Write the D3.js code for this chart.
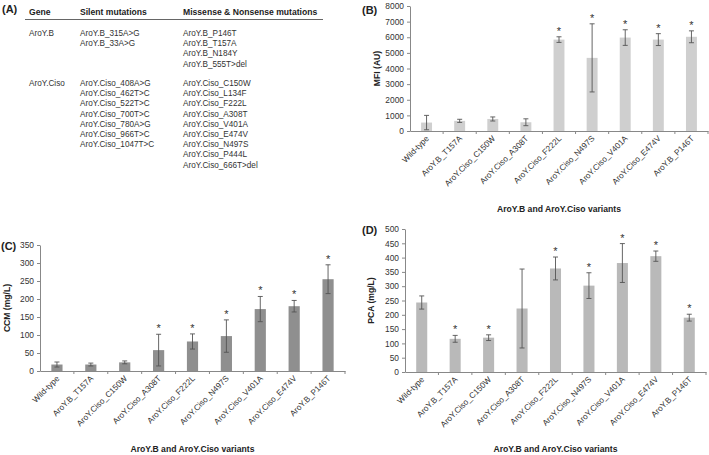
<!DOCTYPE html>
<html><head><meta charset="utf-8">
<script src="https://cdn.jsdelivr.net/npm/d3@7"></script>
<style>
body{margin:0;background:#fff;}
svg{display:block;font-family:"Liberation Sans",Arial,Helvetica,sans-serif;}
</style></head>
<body><svg id="c" width="709" height="455"></svg>
<script>
// ---------- data ----------
const variants = ["Wild-type","AroY.B_T157A","AroY.Ciso_C150W","AroY.Ciso_A308T","AroY.Ciso_F222L","AroY.Ciso_N497S","AroY.Ciso_V401A","AroY.Ciso_E474V","AroY.B_P146T"];
const mfiMean = [540, 650, 770, 560, 5850, 4680, 5980, 5850, 6030];
const mfiErr  = [460, 100, 130, 220, 180, 2180, 500, 380, 380];
const mfiSig  = [0,0,0,0,1,1,1,1,1];
const mfiTicks = [0,1000,2000,3000,4000,5000,6000,7000,8000];

const ccmMean = [18, 18, 24, 58, 82, 97, 172, 180, 255];
const ccmErr  = [7, 4, 4, 44, 21, 45, 35, 16, 40];
const ccmSig  = [0,0,0,1,1,1,1,1,1];
const ccmTicks = [0,50,100,150,200,250,300,350];

const pcaMean = [243, 116, 120, 222, 362, 302, 381, 405, 190];
const pcaErr  = [23, 12, 10, 138, 40, 45, 68, 18, 12];
const pcaSig  = [0,1,1,0,1,1,1,1,1];
const pcaTicks = [0,50,100,150,200,250,300,350,400,450,500];

const tableHeader = ["Gene","Silent mutations","Missense & Nonsense mutations"];
const genes = ["AroY.B","AroY.Ciso"];
const silentB = ["AroY.B_315A>G","AroY.B_33A>G"];
const missenseB = ["AroY.B_P146T","AroY.B_T157A","AroY.B_N184Y","AroY.B_555T>del"];
const silentC = ["AroY.Ciso_408A>G","AroY.Ciso_462T>C","AroY.Ciso_522T>C","AroY.Ciso_700T>C","AroY.Ciso_780A>G","AroY.Ciso_966T>C","AroY.Ciso_1047T>C"];
const missenseC = ["AroY.Ciso_C150W","AroY.Ciso_L134F","AroY.Ciso_F222L","AroY.Ciso_A308T","AroY.Ciso_V401A","AroY.Ciso_E474V","AroY.Ciso_N497S","AroY.Ciso_P444L","AroY.Ciso_666T>del"];
const xTitle = "AroY.B and AroY.Ciso variants";

// ---------- drawing ----------
const svg = d3.select("#c");
const txt = "#222";

// Panel A table
const gA = svg.append("g");
gA.append("text").attr("x",2).attr("y",13).attr("font-size",11).attr("font-weight","bold").attr("fill",txt).text("(A)");
const colX = [29, 80, 183];
tableHeader.forEach((h,i)=>gA.append("text").attr("x",colX[i]).attr("y",15).attr("font-size",8.6).attr("font-weight","bold").attr("fill",txt).text(h));
gA.append("line").attr("x1",25).attr("x2",323).attr("y1",19.5).attr("y2",19.5).attr("stroke","#666").attr("stroke-width",1);
const lh = 10.2;
function col(list, x, y0){ list.forEach((s,i)=>gA.append("text").attr("x",x).attr("y",y0+i*lh).attr("font-size",8.2).attr("fill","#333").text(s)); }
col([genes[0]], colX[0], 36); col(silentB, colX[1], 36); col(missenseB, colX[2], 36);
col([genes[1]], colX[0], 86); col(silentC, colX[1], 86); col(missenseC, colX[2], 86);

function panel(o){
  const g = svg.append("g");
  const x = d3.scaleBand().domain(variants).range([o.x0,o.x1]).paddingInner(0).paddingOuter(0);
  const y = d3.scaleLinear().domain([0,o.max]).range([o.yb,o.yt]);
  // y axis
  const ya = g.append("g").attr("transform",`translate(${o.x0},0)`).call(d3.axisLeft(y).tickValues(o.ticks).tickFormat(d3.format("d")).tickSize(3).tickSizeOuter(0).tickPadding(3));
  ya.selectAll("text").attr("font-size",8.4).attr("fill","#333").attr("font-family","Liberation Sans,Arial,sans-serif");
  ya.selectAll("line,path").attr("stroke","#888");
  // x axis
  const xa = g.append("g").attr("transform",`translate(0,${o.yb})`).call(d3.axisBottom(x).tickSize(0).tickFormat(""));
  xa.select("path").attr("stroke","#888");
  // boundary ticks
  g.selectAll(".bt").data(variants).enter().append("line")
    .attr("x1",d=>x(d)+x.bandwidth()).attr("x2",d=>x(d)+x.bandwidth())
    .attr("y1",o.yb).attr("y2",o.yb+3).attr("stroke","#888");
  // bars
  const bw = x.bandwidth()*0.33;
  const cx = d=>x(d)+x.bandwidth()/2;
  g.selectAll(".bar").data(variants).enter().append("rect")
    .attr("x",d=>cx(d)-bw/2).attr("width",bw)
    .attr("y",(d,i)=>y(o.mean[i])).attr("height",(d,i)=>o.yb-y(o.mean[i])).attr("fill",o.color);
  // error bars
  variants.forEach((d,i)=>{
    const c = cx(d), t = y(Math.min(o.max,o.mean[i]+o.err[i])), b = y(Math.max(0,o.mean[i]-o.err[i]));
    g.append("line").attr("x1",c).attr("x2",c).attr("y1",t).attr("y2",b).attr("stroke","#555").attr("stroke-width",0.9);
    [t,b].forEach(v=>g.append("line").attr("x1",c-2.5).attr("x2",c+2.5).attr("y1",v).attr("y2",v).attr("stroke","#555").attr("stroke-width",0.9));
    if(o.sig[i]) g.append("text").attr("x",c).attr("y",t-2).attr("text-anchor","middle").attr("font-size",11).attr("fill","#333").text("*");
  });
  // x labels
  variants.forEach((d,i)=>{
    g.append("text").attr("transform",`translate(${cx(d)+3},${o.yb+8}) rotate(-45)`)
      .attr("text-anchor","end").attr("font-size",8.2).attr("fill","#333").text(d);
  });
  // titles
  g.append("text").attr("x",(o.x0+o.x1)/2).attr("y",o.titleY).attr("text-anchor","middle").attr("font-size",8.6).attr("font-weight","bold").attr("fill",txt).text(xTitle);
  g.append("text").attr("transform",`translate(${o.ylabX},${(o.yt+o.yb)/2}) rotate(-90)`).attr("text-anchor","middle").attr("font-size",8.6).attr("font-weight","bold").attr("fill",txt).text(o.ylab);
  g.append("text").attr("x",o.tagX).attr("y",o.tagY).attr("font-size",11).attr("font-weight","bold").attr("fill",txt).text(o.tag);
}

panel({x0:410,x1:708,yb:131,yt:6,max:8000,ticks:mfiTicks,mean:mfiMean,err:mfiErr,sig:mfiSig,color:"#cfcfcf",
  ylab:"MFI (AU)",ylabX:380,titleY:212,tag:"(B)",tagX:362,tagY:14});
panel({x0:40,x1:345,yb:371,yt:245,max:350,ticks:ccmTicks,mean:ccmMean,err:ccmErr,sig:ccmSig,color:"#8f8f8f",
  ylab:"CCM (mg/L)",ylabX:10,titleY:452,tag:"(C)",tagX:1,tagY:250});
panel({x0:405,x1:706,yb:372,yt:229,max:500,ticks:pcaTicks,mean:pcaMean,err:pcaErr,sig:pcaSig,color:"#b9b9b9",
  ylab:"PCA (mg/L)",ylabX:374,titleY:452,tag:"(D)",tagX:362,tagY:234});
</script></body></html>
